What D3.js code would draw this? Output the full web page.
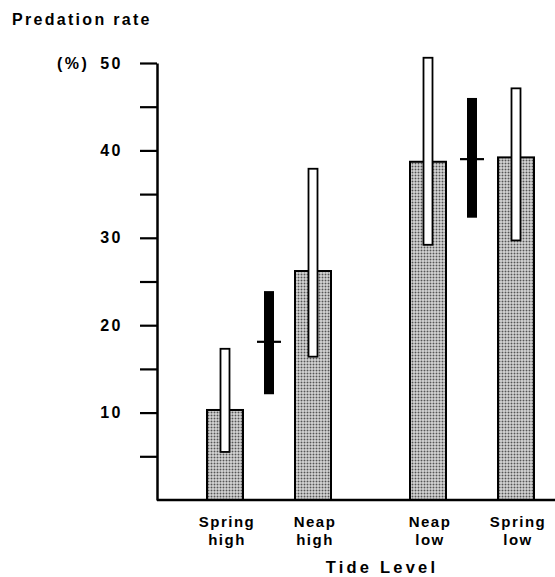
<!DOCTYPE html>
<html><head><meta charset="utf-8">
<script src="https://cdn.jsdelivr.net/npm/d3@7"></script>
<style>
html,body{margin:0;padding:0;background:#fff;}
text{font-family:"Liberation Sans",Arial,sans-serif;font-weight:bold;fill:#000;}
</style></head>
<body>
<svg id="chart" width="555" height="577"></svg>
<script>
// ---- data ----
const categories = ["Spring high", "Neap high", "Neap low", "Spring low"];
const categoryLines = [["Spring", "high"], ["Neap", "high"], ["Neap", "low"], ["Spring", "low"]];
const tideGroup = ["high", "high", "low", "low"];
const meanRate = [10.3, 26.2, 38.7, 39.2];
const errLow = [5.5, 16.4, 29.2, 29.7];
const errHigh = [17.3, 37.9, 50.6, 47.1];
const pooledGroups = ["high", "low"];
const pooledMean = [18.1, 39.0];
const pooledLow = [12.1, 32.3];
const pooledHigh = [23.9, 46.0];
const yTicks = [5, 10, 15, 20, 25, 30, 35, 40, 45, 50];
const yTickLabels = ["", "10", "", "20", "", "30", "", "40", "", "50"];

// ---- layout ----
const svg = d3.select("#chart");
const y = d3.scaleLinear().domain([0, 50]).range([500, 63]);
const xGroup = d3.scalePoint().domain(pooledGroups).range([269, 472]);
const withinOffset = 44;
const barW = 36, errW = 9, pooledW = 10, pooledTickW = 24;
const xCat = i => xGroup(tideGroup[i]) + (i % 2 === 0 ? -withinOffset : withinOffset);

// stipple pattern
const defs = svg.append("defs");
const pat = defs.append("pattern").attr("id", "stipple").attr("patternUnits", "userSpaceOnUse")
  .attr("width", 3).attr("height", 3);
pat.append("rect").attr("width", 3).attr("height", 3).attr("fill", "#f4f4f4");
pat.append("rect").attr("x", 0.5).attr("y", 0.5).attr("width", 2).attr("height", 2).attr("fill", "#555");

// bars
const idx = d3.range(categories.length);
svg.append("g").selectAll("rect").data(idx).join("rect")
  .attr("x", i => xCat(i) - barW / 2)
  .attr("y", i => y(meanRate[i]))
  .attr("width", barW)
  .attr("height", i => y(0) - y(meanRate[i]))
  .attr("fill", "url(#stipple)")
  .attr("stroke", "#000").attr("stroke-width", 2);

// white error bars
svg.append("g").selectAll("rect").data(idx).join("rect")
  .attr("x", i => xCat(i) - errW / 2)
  .attr("y", i => y(errHigh[i]))
  .attr("width", errW)
  .attr("height", i => y(errLow[i]) - y(errHigh[i]))
  .attr("fill", "#fff")
  .attr("stroke", "#000").attr("stroke-width", 1.8);

// pooled black bars
const pidx = d3.range(pooledGroups.length);
svg.append("g").selectAll("rect").data(pidx).join("rect")
  .attr("x", i => xGroup(pooledGroups[i]) - pooledW / 2)
  .attr("y", i => y(pooledHigh[i]))
  .attr("width", pooledW)
  .attr("height", i => y(pooledLow[i]) - y(pooledHigh[i]))
  .attr("fill", "#000");
svg.append("g").selectAll("line").data(pidx).join("line")
  .attr("x1", i => xGroup(pooledGroups[i]) - pooledTickW / 2)
  .attr("x2", i => xGroup(pooledGroups[i]) + pooledTickW / 2)
  .attr("y1", i => y(pooledMean[i])).attr("y2", i => y(pooledMean[i]))
  .attr("stroke", "#000").attr("stroke-width", 2.2);

// y axis
const axisX = 157;
const yAxis = d3.axisLeft(y).tickValues(yTicks).tickSize(17).tickSizeOuter(0)
  .tickFormat((d, i) => yTickLabels[i]).tickPadding(17);
const ga = svg.append("g").attr("transform", `translate(${axisX},0)`).call(yAxis);
ga.select(".domain").attr("stroke", "#000").attr("stroke-width", 2.5);
ga.selectAll(".tick line").attr("stroke", "#000").attr("stroke-width", 2.2);
ga.selectAll(".tick text").attr("font-size", 16).attr("font-family", "Liberation Sans, Arial, sans-serif")
  .attr("font-weight", "bold").attr("letter-spacing", 2.5).attr("fill", "#000");

// baseline
svg.append("line").attr("x1", axisX).attr("x2", 555).attr("y1", y(0)).attr("y2", y(0))
  .attr("stroke", "#000").attr("stroke-width", 2.4);

// (%) label
svg.append("text").attr("x", 57).attr("y", y(50) + 6).attr("font-size", 16)
  .attr("letter-spacing", 2.5).text("(%)");

// title
svg.append("text").attr("x", 12).attr("y", 25).attr("font-size", 16)
  .attr("letter-spacing", 2.3).text("Predation rate");

// category labels
const catG = svg.append("g").selectAll("text").data(idx).join("text")
  .attr("text-anchor", "middle").attr("font-size", 15).attr("letter-spacing", 1.5);
catG.append("tspan").attr("x", i => xCat(i) + 2).attr("y", 527).text(i => categoryLines[i][0]);
catG.append("tspan").attr("x", i => xCat(i) + 2).attr("y", 545).text(i => categoryLines[i][1]);

// x axis title
svg.append("text").attr("x", 382).attr("y", 573).attr("text-anchor", "middle")
  .attr("font-size", 16.5).attr("letter-spacing", 3.2).text("Tide Level");
</script>
</body></html>
